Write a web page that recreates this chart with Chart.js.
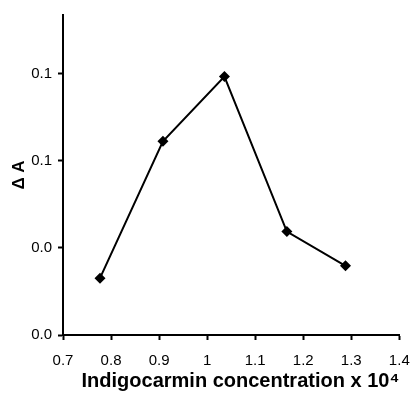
<!DOCTYPE html>
<html>
<head>
<meta charset="utf-8">
<script src="https://cdn.jsdelivr.net/npm/chart.js@4"></script>
<style>
  html, body { margin: 0; padding: 0; background: #fff; }
</style>
</head>
<body>
<canvas id="absChart" width="414" height="401"></canvas>
<script>
// data
const concentrations = [0.777, 0.908, 1.036, 1.166, 1.288];
const deltaA = [0.0261, 0.0890, 0.1187, 0.0475, 0.0318];

const xTicks = [0.7, 0.8, 0.9, 1.0, 1.1, 1.2, 1.3, 1.4];
const xTickLabels = ['0.7', '0.8', '0.9', '1', '1.1', '1.2', '1.3', '1.4'];
const yTicks = [0, 0.04, 0.08, 0.12];
const yTickLabels = ['0.0', '0.0', '0.1', '0.1'];

const FONT = "'Liberation Sans', Arial, sans-serif";

const ctx = document.getElementById('absChart').getContext('2d');

new Chart(ctx, {
    type: 'line',
    data: {
        datasets: [{
            data: concentrations.map((x, i) => ({ x: x, y: deltaA[i] })),
            borderColor: '#000',
            backgroundColor: '#000',
            borderWidth: 2,
            pointStyle: 'rectRot',
            pointRadius: 5.5,
            pointBorderWidth: 0,
            pointBackgroundColor: '#000',
            tension: 0
        }]
    },
    options: {
        responsive: false,
        animation: false,
        layout: {
            padding: { top: 12, right: 14.7, left: 0, bottom: 0 }
        },
        plugins: {
            legend: { display: false },
            tooltip: { enabled: false }
        },
        scales: {
            x: {
                type: 'linear',
                min: 0.7,
                max: 1.4,
                afterBuildTicks: function(scale) {
                    scale.ticks = xTicks.map(v => ({ value: v }));
                },
                afterFit: function(scale) {
                    scale.height = 66;
                    // let the layout padding decide the right edge
                    scale.paddingLeft = 0;
                    scale.paddingRight = 0;
                },
                grid: {
                    drawOnChartArea: false,
                    drawTicks: true,
                    tickLength: 5,
                    tickWidth: 2,
                    tickColor: '#000'
                },
                border: { display: true, color: '#000', width: 2 },
                ticks: {
                    color: '#000',
                    padding: 12,
                    maxRotation: 0,
                    autoSkip: false,
                    font: { family: FONT, size: 15 },
                    callback: function(value, index) {
                        return xTickLabels[index];
                    }
                },
                title: {
                    display: true,
                    align: 'end',
                    text: 'Indigocarmin concentration x 10\u2074',
                    color: '#000',
                    font: { family: FONT, size: 20, weight: 'bold' },
                    padding: { top: 0, bottom: 8 }
                }
            },
            y: {
                min: 0,
                max: 0.147,
                afterBuildTicks: function(scale) {
                    scale.ticks = yTicks.map(v => ({ value: v }));
                },
                afterFit: function(scale) {
                    scale.width = 63;
                },
                grid: {
                    drawOnChartArea: false,
                    drawTicks: true,
                    tickLength: 5,
                    tickWidth: 2,
                    tickColor: '#000'
                },
                border: { display: true, color: '#000', width: 2 },
                ticks: {
                    color: '#000',
                    padding: 6,
                    autoSkip: false,
                    font: { family: FONT, size: 15 },
                    callback: function(value, index) {
                        return yTickLabels[index];
                    }
                },
                title: {
                    display: true,
                    text: '\u0394 A',
                    color: '#000',
                    font: { family: FONT, size: 17, weight: 'bold' },
                    padding: { top: 9, bottom: 0 }
                }
            }
        }
    }
});
</script>
</body>
</html>
